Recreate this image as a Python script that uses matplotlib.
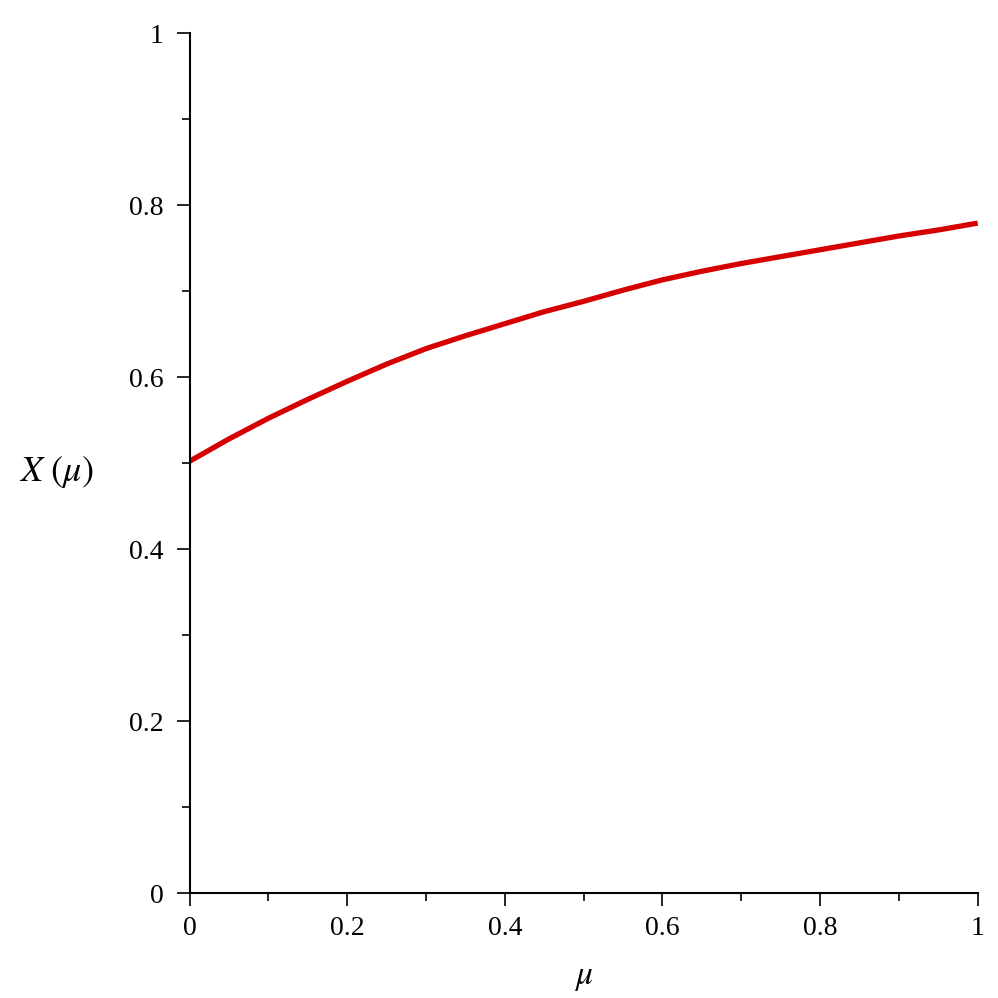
import matplotlib
matplotlib.use("Agg")
import matplotlib.pyplot as plt
from matplotlib.ticker import MultipleLocator

mu = [0.0, 0.05, 0.1, 0.15, 0.2, 0.25, 0.3, 0.35, 0.4, 0.45, 0.5,
      0.55, 0.6, 0.65, 0.7, 0.75, 0.8, 0.85, 0.9, 0.95, 1.0]
X = [0.502, 0.528, 0.552, 0.574, 0.595, 0.615, 0.633, 0.648, 0.662, 0.676, 0.688,
     0.701, 0.713, 0.723, 0.732, 0.740, 0.748, 0.756, 0.764, 0.771, 0.779]

xticks = [0, 0.2, 0.4, 0.6, 0.8, 1]
xticklabels = ["0", "0.2", "0.4", "0.6", "0.8", "1"]
yticks = [0, 0.2, 0.4, 0.6, 0.8, 1]
yticklabels = ["0", "0.2", "0.4", "0.6", "0.8", "1"]

plt.rcParams['mathtext.fontset'] = 'stix'

fig = plt.figure(figsize=(9.98, 9.98), dpi=100)
ax = fig.add_axes([0.1899, 0.1052, 0.7898, 0.8617])

ax.plot(mu, X, color="#d60000", lw=3.8, solid_capstyle='butt')

ax.set_xlim(0, 1)
ax.set_ylim(0, 1)
for s in ["top", "right"]:
    ax.spines[s].set_visible(False)
for s in ["left", "bottom"]:
    ax.spines[s].set_linewidth(1.5)

ax.set_xticks(xticks)
ax.set_yticks(yticks)
ax.xaxis.set_minor_locator(MultipleLocator(0.1))
ax.yaxis.set_minor_locator(MultipleLocator(0.1))
ax.tick_params(which='major', direction='out', length=9.5, width=1.2)
ax.tick_params(which='minor', direction='out', length=6, width=1.2)
ax.tick_params(axis='x', which='major', pad=7)
ax.tick_params(axis='y', which='major', pad=9)
ax.set_xticklabels(xticklabels, fontsize=20, fontfamily="Liberation Serif")
ax.set_yticklabels(yticklabels, fontsize=20, fontfamily="Liberation Serif")

ax.set_xlabel(r"$\mu$", fontsize=24)
ax.xaxis.set_label_coords(0.5, -0.078)
ax.set_ylabel(r"$X\ \left(\mu\right)$", fontsize=26, rotation=0,
              ha='center', va='center')
ax.yaxis.set_label_coords(-0.168, 0.49)

fig.savefig("out.png", dpi=100, facecolor="white")
